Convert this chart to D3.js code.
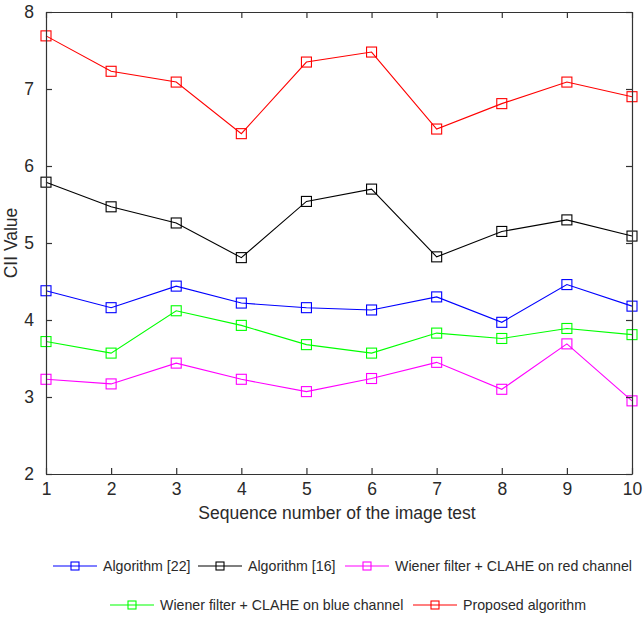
<!DOCTYPE html>
<html>
<head>
<meta charset="utf-8">
<script src="https://cdn.jsdelivr.net/npm/d3@7"></script>
<style>
html,body{margin:0;padding:0;background:#fff;}
svg{display:block;font-family:"Liberation Sans",Arial,sans-serif;}
</style>
</head>
<body>
<svg id="chart" width="644" height="619"></svg>
<script>
const categories = [1,2,3,4,5,6,7,8,9,10];
const yTicks = [2,3,4,5,6,7,8];
const seriesNames = ["Algorithm [22]","Algorithm [16]","Wiener filter + CLAHE on red channel","Wiener filter + CLAHE on blue channel","Proposed algorithm"];
const seriesColors = ["#0000ff","#000000","#ff00ff","#00ff00","#ff0000"];
const algo22 = [4.38,4.16,4.44,4.22,4.16,4.13,4.30,3.97,4.46,4.18];
const algo16 = [5.79,5.47,5.26,4.81,5.54,5.70,4.82,5.15,5.30,5.09];
const wienerRed = [3.23,3.17,3.44,3.23,3.07,3.24,3.45,3.10,3.69,2.95];
const wienerBlue = [3.72,3.57,4.12,3.93,3.68,3.57,3.83,3.76,3.89,3.81];
const proposed = [7.69,7.23,7.09,6.42,7.35,7.48,6.48,6.81,7.09,6.90];
const xLabel = "Sequence number of the image test";
const yLabel = "CII Value";

const seriesValues = [algo22, algo16, wienerRed, wienerBlue, proposed];
(function(){
const svg = d3.select("#chart");
const mLeft = 46, mRight = 632, mTop = 12, mBottom = 474;
const x = d3.scaleLinear().domain([1,10]).range([mLeft,mRight]);
const y = d3.scaleLinear().domain([2,8]).range([mBottom,mTop]);
const axisColor = "#333";
const textColor = "#2a2a2a";

const line = d3.line().x((d,i)=>x(categories[i])).y(d=>y(d));
const drawOrder = [4,1,0,3,2];
drawOrder.forEach(k=>{
  const g = svg.append("g");
  g.append("path").attr("d", line(seriesValues[k])).attr("fill","none")
    .attr("stroke", seriesColors[k]).attr("stroke-width",1.1);
  g.selectAll("rect").data(seriesValues[k]).enter().append("rect")
    .attr("x",(d,i)=>x(categories[i])-5).attr("y",d=>y(d)-5)
    .attr("width",10).attr("height",10)
    .attr("fill","none").attr("stroke",seriesColors[k]).attr("stroke-width",1.1);
});

function styleAxis(g){
  g.select(".domain").attr("stroke",axisColor).attr("stroke-width",1.2);
  g.selectAll(".tick line").attr("stroke",axisColor).attr("stroke-width",1.2);
  g.selectAll(".tick text").attr("fill",textColor).style("font-size","17.5px")
    .style("font-family",'"Liberation Sans",Arial,sans-serif');
}
const xb = svg.append("g").attr("transform",`translate(0,${mBottom})`)
  .call(d3.axisBottom(x).tickValues(categories).tickFormat(d3.format("d")).tickSizeInner(-6).tickSizeOuter(0).tickPadding(9));
styleAxis(xb);
const xt = svg.append("g").attr("transform",`translate(0,${mTop})`)
  .call(d3.axisTop(x).tickValues(categories).tickFormat("").tickSizeInner(-6).tickSizeOuter(0));
styleAxis(xt);
const yl = svg.append("g").attr("transform",`translate(${mLeft},0)`)
  .call(d3.axisLeft(y).tickValues(yTicks).tickFormat(d3.format("d")).tickSizeInner(-6).tickSizeOuter(0).tickPadding(12));
styleAxis(yl);
const yr = svg.append("g").attr("transform",`translate(${mRight},0)`)
  .call(d3.axisRight(y).tickValues(yTicks).tickFormat("").tickSizeInner(-6).tickSizeOuter(0));
styleAxis(yr);

svg.append("text").attr("x",337).attr("y",519).attr("text-anchor","middle")
  .attr("fill",textColor).style("font-size","17.5px").text(xLabel);
svg.append("text").attr("transform",`translate(17,${(mTop+mBottom)/2}) rotate(-90)`)
  .attr("text-anchor","middle").attr("fill",textColor).style("font-size","17.5px").text(yLabel);

const legendPos = [
  {x:53, y:566},{x:198, y:566},{x:345, y:566},
  {x:110, y:605},{x:413, y:605}
];
seriesNames.forEach((name,k)=>{
  const p = legendPos[k];
  const g = svg.append("g").attr("transform",`translate(${p.x},${p.y})`);
  g.append("line").attr("x1",0).attr("x2",44).attr("y1",0).attr("y2",0)
    .attr("stroke",seriesColors[k]).attr("stroke-width",1.1);
  g.append("rect").attr("x",18).attr("y",-4).attr("width",8).attr("height",8)
    .attr("fill","none").attr("stroke",seriesColors[k]).attr("stroke-width",1.1);
  g.append("text").attr("x",50).attr("y",5).attr("fill",textColor)
    .style("font-size","14.2px").text(name);
});
})();
</script>
</body>
</html>
